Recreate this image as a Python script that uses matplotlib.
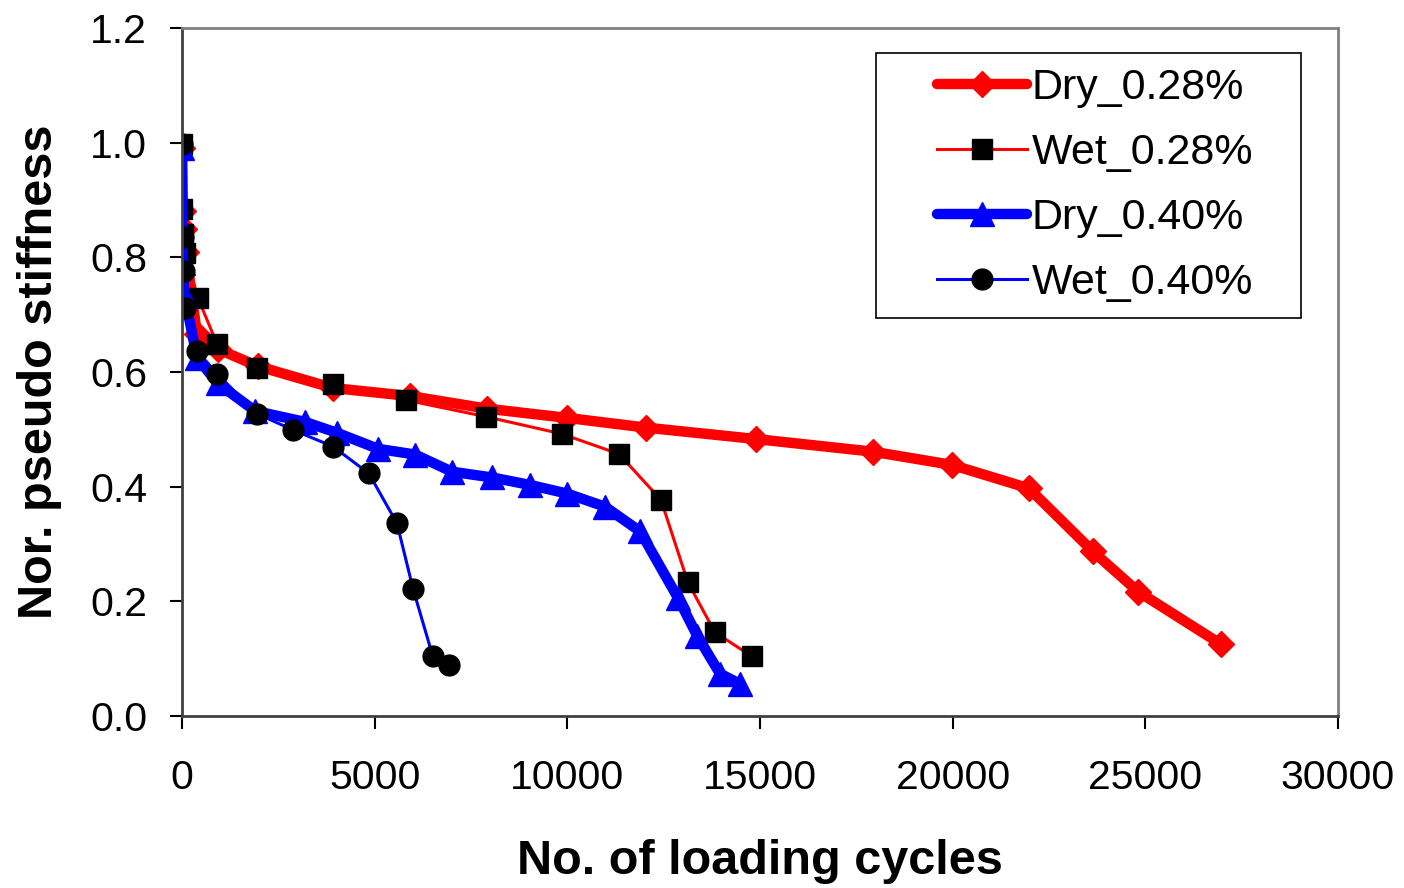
import matplotlib
matplotlib.use("Agg")
import matplotlib.pyplot as plt
from matplotlib.patches import Rectangle

plt.rcParams['font.family'] = ['Liberation Sans', 'DejaVu Sans']

# Dry_0.28%
dry028_x = [0, 20, 50, 100, 390, 930, 1970, 3920, 5920, 7920, 9990, 12040, 14900, 17930, 19980, 21980, 23640, 24810, 26970]
dry028_y = [0.99, 0.88, 0.85, 0.81, 0.666, 0.64, 0.61, 0.572, 0.558, 0.536, 0.52, 0.503, 0.483, 0.461, 0.438, 0.397, 0.287, 0.217, 0.125]

# Wet_0.28%
wet028_x = [0, 10, 40, 90, 415, 910, 1950, 3920, 5810, 7890, 9860, 11340, 12430, 13130, 13830, 14790]
wet028_y = [0.997, 0.885, 0.84, 0.807, 0.729, 0.649, 0.607, 0.579, 0.551, 0.522, 0.492, 0.457, 0.377, 0.233, 0.146, 0.104]

# Dry_0.40%
dry040_x = [0, 20, 60, 390, 930, 1900, 3190, 4020, 5090, 6050, 7010, 8050, 9030, 9990, 10980, 11890, 12880, 13370, 13960, 14480]
dry040_y = [0.99, 0.79, 0.735, 0.625, 0.58, 0.532, 0.513, 0.494, 0.466, 0.456, 0.426, 0.416, 0.403, 0.388, 0.365, 0.322, 0.205, 0.14, 0.074, 0.056]

# Wet_0.40%
wet040_x = [0, 20, 50, 80, 390, 910, 1950, 2880, 3920, 4850, 5580, 6000, 6510, 6930]
wet040_y = [0.997, 0.836, 0.776, 0.711, 0.637, 0.597, 0.527, 0.499, 0.47, 0.423, 0.336, 0.221, 0.104, 0.089]

fig = plt.figure(figsize=(14.04, 8.88), dpi=100)
ax = fig.add_axes([0.1296, 0.1937, 0.8234, 0.7748])

ax.plot(dry028_x, dry028_y, color='#ff0000', lw=7.5, marker='D', ms=13,
        mfc='#ff0000', mec='#ff0000', solid_capstyle='round', label='Dry_0.28%')
ax.plot(wet028_x, wet028_y, color='#ff0000', lw=2.2, marker='s', ms=15,
        mfc='black', mec='black', label='Wet_0.28%')
ax.plot(dry040_x, dry040_y, color='#0000ff', lw=7.5, marker='^', ms=17,
        mfc='#0000ff', mec='#0000ff', solid_capstyle='round', label='Dry_0.40%')
ax.plot(wet040_x, wet040_y, color='#0000ff', lw=2.2, marker='o', ms=15,
        mfc='black', mec='black', label='Wet_0.40%')

ax.set_xlim(0, 30000)
ax.set_ylim(0, 1.2)
ax.set_xticks([0, 5000, 10000, 15000, 20000, 25000, 30000])
ax.set_yticks([0.0, 0.2, 0.4, 0.6, 0.8, 1.0, 1.2])
ax.set_yticklabels(['0.0', '0.2', '0.4', '0.6', '0.8', '1.0', '1.2'])
ax.tick_params(axis='both', labelsize=29.5, length=9, width=1.5, direction='out')
ax.tick_params(axis='y', pad=16)
ax.tick_params(axis='x', pad=22)

for s in ['left', 'bottom']:
    ax.spines[s].set_color('#404040')
    ax.spines[s].set_linewidth(2)
for s in ['top', 'right']:
    ax.spines[s].set_color('#808080')
    ax.spines[s].set_linewidth(2)

ax.set_xlabel('No. of loading cycles', fontsize=35, fontweight='bold', labelpad=30)
ax.set_ylabel('Nor. pseudo stiffness', fontsize=35, fontweight='bold', labelpad=20)

# legend box drawn separately (wider side padding than top/bottom)
ax.add_patch(Rectangle((0.600, 0.5785), 0.368, 0.385, transform=ax.transAxes,
                       facecolor='white', edgecolor='black', lw=1.2, zorder=5))
leg = ax.legend(loc='upper left', bbox_to_anchor=(0.623, 0.992), fontsize=31,
                handlelength=2.1, handletextpad=0.1, labelspacing=0.58,
                borderpad=0.3, frameon=False)
leg.set_zorder(6)

fig.savefig('out.png', dpi=100)
